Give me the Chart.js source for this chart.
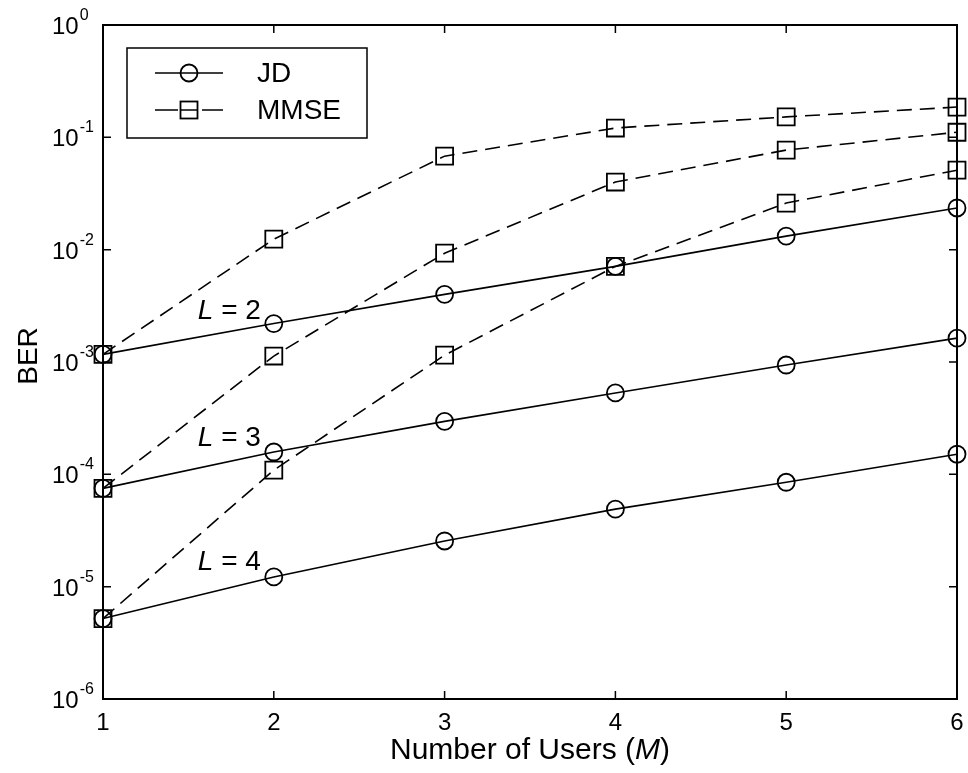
<!DOCTYPE html>
<html><head><meta charset="utf-8">
<script src="https://cdn.jsdelivr.net/npm/chart.js@4.4.0/dist/chart.umd.min.js"></script>
<style>html,body{margin:0;padding:0;background:#fff}canvas{display:block}</style>
</head><body>
<canvas id="c" width="968" height="773"></canvas>
<script>
// ---- data ----
const users = [1, 2, 3, 4, 5, 6];
const xTicks = [1, 2, 3, 4, 5, 6];
const yTickExponents = [0, -1, -2, -3, -4, -5, -6];
const seriesNames = ['JD', 'MMSE'];
const jdL2 = [1.17e-3, 2.2e-3, 4.0e-3, 7.1e-3, 1.32e-2, 2.35e-2];
const jdL3 = [7.5e-5, 1.58e-4, 2.96e-4, 5.3e-4, 9.4e-4, 1.63e-3];
const jdL4 = [5.2e-6, 1.22e-5, 2.55e-5, 4.9e-5, 8.5e-5, 1.51e-4];
const mmseL2 = [1.17e-3, 1.24e-2, 6.8e-2, 0.121, 0.152, 0.186];
const mmseL3 = [7.5e-5, 1.13e-3, 9.3e-3, 0.040, 0.077, 0.111];
const mmseL4 = [5.2e-6, 1.09e-4, 1.15e-3, 7.1e-3, 0.026, 0.051];
const curveLabelValues = ['2', '3', '4'];
const curveLabelX = [1.555, 1.555, 1.555];
const curveLabelY = [2.4e-3, 1.8e-4, 1.4e-5];
const xTitle = ['Number of Users (', 'M', ')'];
const yTitle = 'BER';

const FONT = '"Liberation Sans", Arial, Helvetica, sans-serif';
const DASH = [15, 8];

function mk(data, name, dashed) {
  return {
    label: name,
    data: users.map((u, i) => ({x: u, y: data[i]})),
    borderColor: '#000',
    borderWidth: 1.6,
    borderDash: dashed ? DASH : [],
    pointStyle: dashed ? 'rect' : 'circle',
    pointRadius: dashed ? 12 : 8.5,
    pointHoverRadius: dashed ? 12 : 8.5,
    pointBorderWidth: 1.8,
    pointBorderColor: '#000',
    pointBackgroundColor: 'rgba(0,0,0,0)',
    fill: false,
    tension: 0,
    clip: false
  };
}

const overlay = {
  id: 'overlay',
  afterDatasetsDraw(chart) {
    const ctx = chart.ctx, a = chart.chartArea, xs = chart.scales.x, ys = chart.scales.y;
    ctx.save();
    ctx.setLineDash([]);
    ctx.strokeStyle = '#000';
    // frame
    ctx.lineWidth = 2;
    ctx.strokeRect(a.left, a.top, a.right - a.left, a.bottom - a.top);
    // inward ticks
    ctx.lineWidth = 1.5;
    const tl = 8;
    ctx.beginPath();
    xTicks.forEach(v => {
      if (v === xs.min || v === xs.max) return;
      const p = xs.getPixelForValue(v);
      ctx.moveTo(p, a.bottom); ctx.lineTo(p, a.bottom - tl);
      ctx.moveTo(p, a.top); ctx.lineTo(p, a.top + tl);
    });
    yTickExponents.forEach(e => {
      const p = ys.getPixelForValue(Math.pow(10, e));
      if (Math.abs(p - a.top) < 1 || Math.abs(p - a.bottom) < 1) return;
      ctx.moveTo(a.left, p); ctx.lineTo(a.left + tl, p);
      ctx.moveTo(a.right, p); ctx.lineTo(a.right - tl, p);
    });
    ctx.stroke();

    // curve labels "L = n"
    ctx.fillStyle = '#000';
    ctx.textBaseline = 'alphabetic';
    ctx.textAlign = 'left';
    curveLabelValues.forEach((n, i) => {
      const x = xs.getPixelForValue(curveLabelX[i]);
      const y = ys.getPixelForValue(curveLabelY[i]);
      ctx.font = 'italic 28px ' + FONT;
      ctx.fillText('L', x, y);
      const w = ctx.measureText('L').width;
      ctx.font = '28px ' + FONT;
      ctx.fillText(' = ' + n, x + w, y);
    });

    // legend
    const lx = a.left + 24, ly = a.top + 23, lw = 240, lh = 90;
    ctx.fillStyle = '#fff';
    ctx.fillRect(lx, ly, lw, lh);
    ctx.lineWidth = 1.5;
    ctx.strokeStyle = '#000';
    ctx.strokeRect(lx, ly, lw, lh);
    const rows = [ly + 25, ly + 62];
    const x0 = lx + 28, x1 = lx + 96, xm = lx + 62;
    // JD
    ctx.beginPath();
    ctx.moveTo(x0, rows[0]); ctx.lineTo(x1, rows[0]); ctx.stroke();
    ctx.lineWidth = 1.8;
    ctx.beginPath(); ctx.arc(xm, rows[0], 8.5, 0, Math.PI * 2); ctx.stroke();
    // MMSE
    ctx.lineWidth = 1.5;
    ctx.beginPath();
    ctx.moveTo(x0, rows[1]); ctx.lineTo(x0 + 23, rows[1]);
    ctx.moveTo(x1 - 21, rows[1]); ctx.lineTo(x1, rows[1]);
    ctx.moveTo(xm - 8.5, rows[1]); ctx.lineTo(xm + 8.5, rows[1]);
    ctx.stroke();
    ctx.lineWidth = 1.8;
    ctx.strokeRect(xm - 8.5, rows[1] - 8.5, 17, 17);
    ctx.fillStyle = '#000';
    ctx.font = '28px ' + FONT;
    ctx.textBaseline = 'middle';
    ctx.fillText(seriesNames[0], lx + 130, rows[0] + 1);
    ctx.fillText(seriesNames[1], lx + 130, rows[1] + 1);
    ctx.restore();
  },
  afterDraw(chart) {
    const ctx = chart.ctx, a = chart.chartArea, ys = chart.scales.y;
    ctx.save();
    ctx.fillStyle = '#000';
    ctx.textAlign = 'left';
    ctx.textBaseline = 'alphabetic';
    // y tick labels with superscripts
    yTickExponents.forEach(e => {
      const p = ys.getPixelForValue(Math.pow(10, e));
      ctx.font = '24px ' + FONT;
      ctx.fillText('10', 52, p + 9);
      const w = ctx.measureText('10').width;
      ctx.font = '16px ' + FONT;
      ctx.fillText(String(e), 52 + w + 1, p - 5);
    });
    // y title
    ctx.save();
    ctx.translate(37, (a.top + a.bottom) / 2 - 6);
    ctx.rotate(-Math.PI / 2);
    ctx.font = '28px ' + FONT;
    ctx.textAlign = 'center';
    ctx.fillText(yTitle, 0, 0);
    ctx.restore();
    // x title with italic M
    const parts = [
      {t: xTitle[0], f: '30px ' + FONT},
      {t: xTitle[1], f: 'italic 30px ' + FONT},
      {t: xTitle[2], f: '30px ' + FONT}
    ];
    let total = 0;
    parts.forEach(pt => { ctx.font = pt.f; pt.w = ctx.measureText(pt.t).width; total += pt.w; });
    let x = (a.left + a.right) / 2 - total / 2;
    const yb = 759;
    parts.forEach(pt => { ctx.font = pt.f; ctx.fillText(pt.t, x, yb); x += pt.w; });
    ctx.restore();
  }
};

new Chart(document.getElementById('c'), {
  type: 'line',
  data: {
    datasets: [
      mk(jdL2, 'JD', false), mk(jdL3, 'JD', false), mk(jdL4, 'JD', false),
      mk(mmseL2, 'MMSE', true), mk(mmseL3, 'MMSE', true), mk(mmseL4, 'MMSE', true)
    ]
  },
  options: {
    responsive: false,
    devicePixelRatio: 1,
    animation: false,
    events: [],
    layout: {autoPadding: false, padding: {left: 0, right: 11, top: 25, bottom: 0}},
    plugins: {legend: {display: false}, tooltip: {enabled: false}},
    scales: {
      x: {
        type: 'linear', min: 1, max: 6,
        afterBuildTicks: s => { s.ticks = xTicks.map(v => ({value: v})); },
        afterFit: s => { s.height = 74; s.paddingLeft = 0; s.paddingRight = 0; },
        grid: {display: false, drawTicks: false},
        border: {display: false},
        ticks: {color: '#000', font: {family: FONT, size: 24}, padding: 10, maxRotation: 0,
                callback: v => String(v)}
      },
      y: {
        type: 'logarithmic', min: 1e-6, max: 1,
        afterBuildTicks: s => { s.ticks = yTickExponents.map(e => ({value: Math.pow(10, e)})); },
        afterFit: s => { s.width = 103; s.paddingTop = 0; s.paddingBottom = 0; },
        grid: {display: false, drawTicks: false},
        border: {display: false},
        ticks: {display: false}
      }
    }
  },
  plugins: [overlay]
});
</script>
</body></html>
